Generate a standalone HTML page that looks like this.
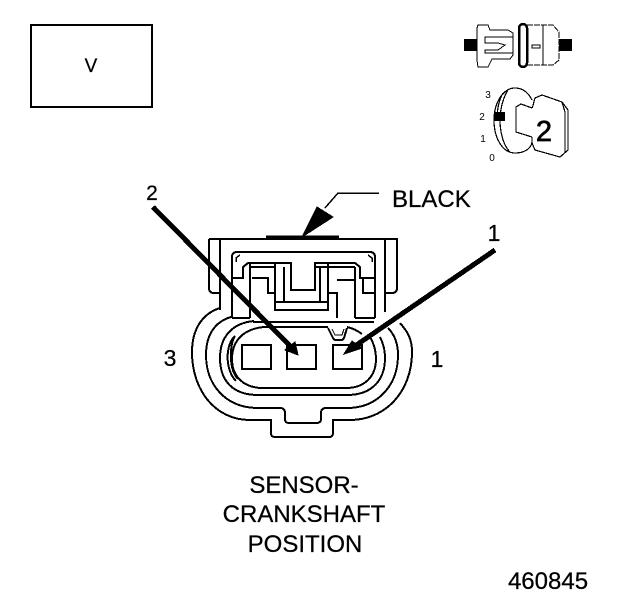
<!DOCTYPE html>
<html><head><meta charset="utf-8"><style>
html,body{margin:0;padding:0;background:#fff}
svg{display:block}
text{font-family:"Liberation Sans",sans-serif;fill:#000;stroke:#000;stroke-width:.25}
</style></head><body>
<svg width="624" height="600" viewBox="0 0 624 600" xmlns="http://www.w3.org/2000/svg" shape-rendering="crispEdges">
<rect x="31" y="25" width="121" height="82" fill="none" stroke="#000" stroke-width="2"/>
<text x="91" y="72" font-size="19" text-anchor="middle">V</text>

<!-- top-right connector icon -->
<g fill="none" stroke="#000" stroke-width="1">
<path d="M478 25H488L490 30H508L513 33V55L510 59H492L488 67H478L477 60V28Z" fill="#fff"/>
<path d="M513 37H485V43H498L505 45L498 50H485V53H513"/>
<path d="M527 25H553L559 32V60L553 65H527" stroke-dasharray="6 1"/>
<path d="M543 25V65"/>
<rect x="532" y="45" width="8" height="3"/>
<rect x="519" y="24" width="8" height="43" rx="4" stroke-width="2.5"/>
</g>
<rect x="464" y="39" width="13" height="12"/>
<rect x="559" y="39" width="13" height="12"/>

<!-- top-right key icon -->
<g fill="none" stroke="#000" stroke-width="1.2">
<path d="M532 100C528 92 522 88 515 88C503 88 494 103 494 120C494 139 503 153 515 153C524 153 531 149 532 142"/>
<path d="M508 90C504 96 500 108 500 120C500 134 504 146 510 152"/>
<path d="M503 93C499 100 497 110 497 120"/>
<path d="M532 137L516 132V107L521 104L532 108"/>
<path d="M532 108C534 104 534 100 535 98L542 95L562 102L568 110V150L560 157L535 150L532 143V137"/>
<path d="M562 102L565 112V152"/>
</g>
<rect x="494" y="112" width="11" height="9"/>
<text x="544" y="141" font-size="29" text-anchor="middle" style="stroke-width:.7">2</text>
<text x="488" y="98" font-size="10" text-anchor="middle" style="stroke-width:0">3</text>
<text x="482" y="120" font-size="10" text-anchor="middle" style="stroke-width:0">2</text>
<text x="483" y="142" font-size="10" text-anchor="middle" style="stroke-width:0">1</text>
<text x="492" y="161" font-size="10" text-anchor="middle" style="stroke-width:0">0</text>

<!-- Main connector -->
<g fill="none" stroke="#000" stroke-width="2">
<!-- housing -->
<path d="M209 239H397V288Q397 293 392 293H385"/>
<path d="M209 239V288Q209 293 214 293H220"/>
<path d="M220 239V310"/>
<path d="M385 239V312"/>
<!-- inner frame -->
<path d="M232 318V257Q232 252 237 252H370Q375 252 375 257V318"/>
<path d="M232 278H243V267L248 263H291V290H315V263H355L360 267V278H375"/>
<path d="M236 262V258L240 255M372 262V258L368 255" stroke-width="1.5"/>
<path d="M250 263V318"/>
<path d="M251 267H275"/>
<path d="M252 278H268V293H275"/>
<path d="M275 263V310H328V263"/>
<path d="M284 267V302"/>
<path d="M320 267V302"/>
<path d="M276 302H328"/>
<path d="M328 293H337V318"/>
<path d="M337 280H355"/>
<path d="M355 267V318"/>
<path d="M315 267H355"/>
<path d="M363 278V293H375"/>
<path d="M232 318H250M355 318H375"/>
<path d="M253 322H374"/>
<!-- ovals -->
<path d="M220 308C201 314 192 331 192 352C192 390 215 420 250 420H271V433Q271 437 275 437H329Q333 437 333 433V420H350C385 420 412 392 412 352C412 338 407 331 400 323"/>
<path d="M231 317C214 322 206 336 206 355C206 385 226 408 258 408H280Q285 408 285 413V419Q285 423 289 423H316Q321 423 321 419V413Q321 408 326 408H347C378 408 398 385 398 355C398 343 394 334 388 328"/>
<path d="M254 321C232 323 220 337 220 358C220 381 233 395 258 395H347C372 395 385 380 385 358C385 350 383 343 380 337"/>
<path d="M264 327C242 329 232 342 232 359C232 376 243 388 263 388H346C365 388 376 376 376 359C376 349 373 342 370 337"/>
<path d="M235 336C225 345 225 370 236 381"/>
<path d="M235 336C229 345 229 370 238 379"/>
<path d="M264 327H328M347 327C352 328 358 331 362 334"/>
<path d="M328 328L333 338Q334 340 336 340H341Q343 340 344 338L347 328"/>
<path d="M332 329L335 335H342L344 329" stroke-width="1"/>
<rect x="242" y="345" width="29" height="24"/>
<rect x="287" y="345" width="29" height="24"/>
<rect x="333" y="345" width="29" height="24"/>
</g>

<!-- raised top bar -->
<path d="M266 237H339" stroke="#000" stroke-width="3"/>

<!-- arrows -->
<g stroke="#000" fill="#000">
<line x1="153" y1="207" x2="290" y2="346" stroke-width="5"/>
<path d="M298 355L285 350L295 342Z" stroke-width="1"/>
<line x1="495" y1="250" x2="355" y2="346" stroke-width="5"/>
<path d="M344 354L352 341L362 348Z" stroke-width="1"/>
<path d="M325 208L338 193H379" fill="none" stroke-width="1.5"/>
<path d="M302 237L317 207L333 217Z" stroke-width="1"/>
</g>

<!-- labels -->
<text x="392" y="207" font-size="24">BLACK</text>
<text x="152" y="200" font-size="21" text-anchor="middle">2</text>
<text x="494" y="241" font-size="23" text-anchor="middle">1</text>
<text x="170" y="366" font-size="23" text-anchor="middle">3</text>
<text x="437" y="367" font-size="23" text-anchor="middle">1</text>
<text x="304" y="493" font-size="24" text-anchor="middle">SENSOR-</text>
<text x="304" y="522" font-size="24" text-anchor="middle">CRANKSHAFT</text>
<text x="305" y="552" font-size="24" text-anchor="middle">POSITION</text>
<text x="548" y="589" font-size="24" text-anchor="middle">460845</text>
</svg>
</body></html>
